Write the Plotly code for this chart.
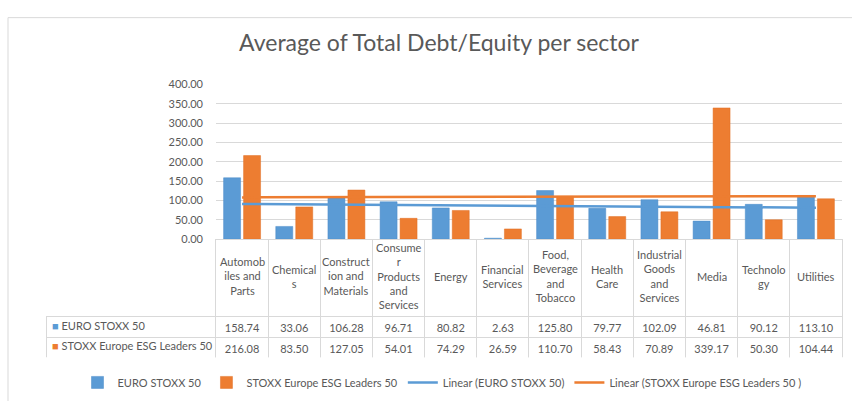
import plotly.graph_objects as go
import numpy as np

# ---------------- data ----------------
sectors = ["Automobiles and Parts", "Chemicals", "Construction and Materials",
           "Consumer Products and Services", "Energy", "Financial Services",
           "Food, Beverage and Tobacco", "Health Care", "Industrial Goods and Services",
           "Media", "Technology", "Utilities"]
header_labels = ["Automob<br>iles and<br>Parts", "Chemical<br>s", "Construct<br>ion and<br>Materials",
                 "Consume<br>r<br>Products<br>and<br>Services", "Energy", "Financial<br>Services",
                 "Food,<br>Beverage<br>and<br>Tobacco", "Health<br>Care",
                 "Industrial<br>Goods<br>and<br>Services", "Media", "Technolo<br>gy", "Utilities"]
euro_stoxx = [158.74, 33.06, 106.28, 96.71, 80.82, 2.63, 125.80, 79.77, 102.09, 46.81, 90.12, 113.10]
esg_leaders = [216.08, 83.50, 127.05, 54.01, 74.29, 26.59, 110.70, 58.43, 70.89, 339.17, 50.30, 104.44]
series_names = ["EURO STOXX 50", "STOXX Europe ESG Leaders 50"]
trend_names = ["Linear (EURO STOXX 50)", "Linear (STOXX Europe ESG Leaders 50 )"]
y_ticks = [0, 50, 100, 150, 200, 250, 300, 350, 400]

BLUE = "#5b9bd5"
ORANGE = "#ed7d31"
TXT = "#595959"
GRID = "#d9d9d9"
FONT = "Lato"

W, H = 852, 401


def trend(vals):
    idx = np.arange(1, len(vals) + 1)
    k, b = np.polyfit(idx, vals, 1)
    return list(k * idx + b)


fig = go.Figure()
fig.add_trace(go.Bar(x=sectors, y=euro_stoxx, name=series_names[0],
                     marker=dict(color=BLUE, line=dict(color="#4a8ac8", width=0.5))))
fig.add_trace(go.Bar(x=sectors, y=esg_leaders, name=series_names[1],
                     marker=dict(color=ORANGE, line=dict(color="#e06f22", width=0.5))))
fig.add_trace(go.Scatter(x=sectors, y=trend(euro_stoxx), mode="lines", name=trend_names[0],
                         line=dict(color=BLUE, width=2.5)))
fig.add_trace(go.Scatter(x=sectors, y=trend(esg_leaders), mode="lines", name=trend_names[1],
                         line=dict(color=ORANGE, width=2.5)))

# data table below the chart
ncol = len(sectors)
cell_values = [["", ""]] + [[f"{a:.2f}", f"{b:.2f}"] for a, b in zip(euro_stoxx, esg_leaders)]
fig.add_trace(go.Table(
    domain=dict(x=[46 / W, 842 / W], y=[(H - 362) / H, (H - 240) / H]),
    columnwidth=[170] + [52.17] * ncol,
    header=dict(values=[""] * (ncol + 1), height=77,
                fill=dict(color=["rgba(0,0,0,0)"] + ["rgba(255,255,255,0)"] * ncol),
                line=dict(color=["rgba(0,0,0,0)"] + [GRID] * ncol, width=1)),
    cells=dict(values=cell_values, height=21,
               align=["left"] + ["center"] * ncol,
               fill=dict(color="white"),
               line=dict(color=GRID, width=1),
               font=dict(family=FONT, size=11, color=TXT)),
))

annotations = []
for s, lab in zip(sectors, header_labels):
    annotations.append(dict(x=s, xref="x", y=(H - 278.5) / H, yref="paper",
                            text=lab, showarrow=False, yanchor="middle",
                            font=dict(family=FONT, size=11, color=TXT)))
# row labels of the data table (with legend keys)
for name, color, ypx in zip(series_names, [BLUE, ORANGE], [329.5, 350]):
    annotations.append(dict(x=50 / W, xref="paper", y=(H - ypx) / H, yref="paper",
                            xanchor="left", yanchor="middle", showarrow=False,
                            text=f"<span style='color:{color}'>■</span> {name}",
                            font=dict(family=FONT, size=11, color=TXT)))

fig.update_layout(
    width=W, height=H,
    margin=dict(l=0, r=0, t=0, b=0),
    paper_bgcolor="white", plot_bgcolor="white",
    title=dict(text="Average of Total Debt/Equity per sector", x=439 / W, xanchor="center",
               y=(H - 43) / H, yanchor="middle",
               font=dict(family=FONT, size=23, color=TXT)),
    barmode="group", bargap=0.234, bargroupgap=0.15,
    xaxis=dict(domain=[216 / W, 842 / W], showticklabels=False, showgrid=False,
               zeroline=False, showline=False, ticks=""),
    yaxis=dict(domain=[(H - 240) / H, (H - 80) / H], range=[0, 400], tickvals=y_ticks,
               tickformat=".2f", showgrid=True, gridcolor=GRID, gridwidth=1,
               zeroline=False, showline=False, ticks="", ticklabelstandoff=12,
               tickfont=dict(family=FONT, size=11, color=TXT)),
    legend=dict(orientation="h", x=442 / W, xanchor="center", y=(H - 388) / H, yanchor="middle",
                font=dict(family=FONT, size=11, color=TXT), traceorder="normal",
                bgcolor="rgba(0,0,0,0)"),
    annotations=annotations,
    shapes=[dict(type="rect", xref="paper", yref="paper", x0=8 / W, x1=1.02,
                 y0=-0.02, y1=(H - 11) / H, line=dict(color=GRID, width=1), layer="below")],
    font=dict(family=FONT, color=TXT),
)

fig.write_html("out.html", config={"displayModeBar": False},
               post_script="document.body.style.margin='0';")
